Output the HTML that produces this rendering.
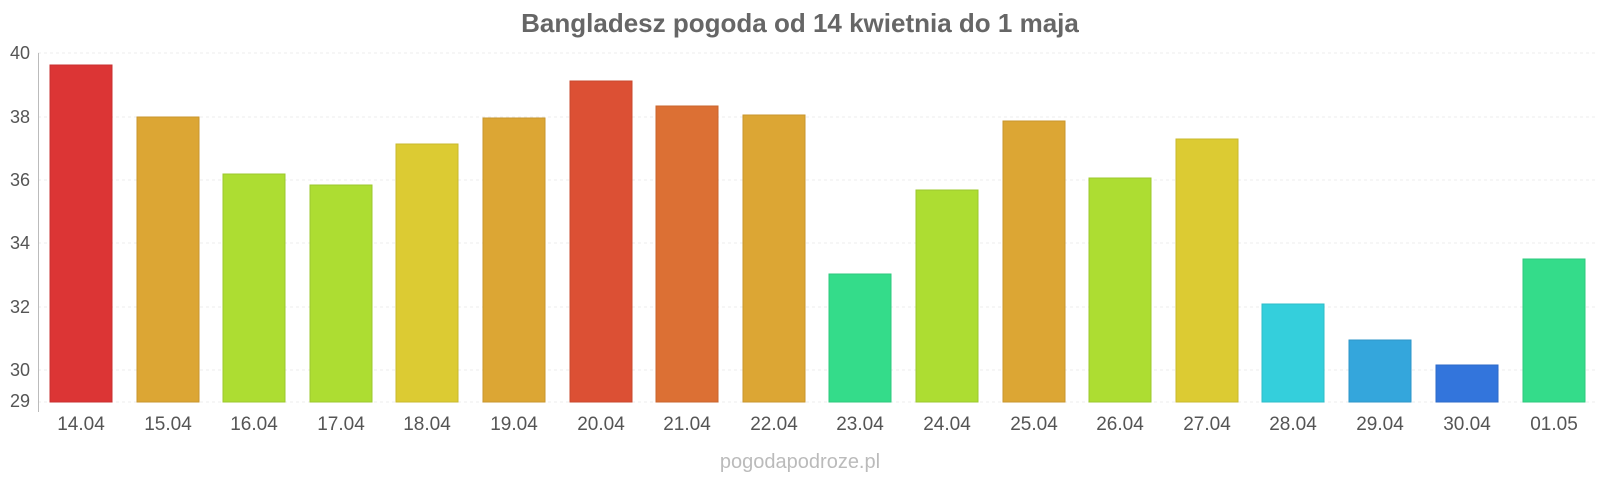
<!DOCTYPE html><html><head><meta charset="utf-8"><style>body{margin:0;background:#fff}svg{display:block}</style></head><body>
<svg width="1600" height="480" xmlns="http://www.w3.org/2000/svg" font-family="Liberation Sans, sans-serif">
<text x="800" y="32" text-anchor="middle" font-size="26" font-weight="bold" fill="#666">Bangladesz pogoda od 14 kwietnia do 1 maja</text>
<g stroke="#eee" stroke-width="1" stroke-dasharray="3,3">
<line x1="38" x2="1597" y1="53" y2="53"/><line x1="38" x2="1597" y1="117" y2="117"/><line x1="38" x2="1597" y1="180" y2="180"/><line x1="38" x2="1597" y1="243" y2="243"/><line x1="38" x2="1597" y1="307" y2="307"/><line x1="38" x2="1597" y1="370" y2="370"/><line x1="38" x2="1597" y1="402" y2="402"/></g>
<line x1="38.5" x2="38.5" y1="53" y2="412" stroke="#bbb"/>
<g font-size="18" fill="#555" text-anchor="end">
<text x="30" y="59">40</text><text x="30" y="123">38</text><text x="30" y="186">36</text><text x="30" y="249">34</text><text x="30" y="313">32</text><text x="30" y="376">30</text><text x="30" y="407">29</text></g>
<g stroke-width="1">
<rect x="50" y="65" width="62" height="337" fill="#dc3535" stroke="#c83030"/>
<rect x="137" y="117" width="62" height="285" fill="#dca634" stroke="#c8962e"/>
<rect x="223" y="174" width="62" height="228" fill="#addd32" stroke="#9cc82d"/>
<rect x="310" y="185" width="62" height="217" fill="#addd32" stroke="#9cc82d"/>
<rect x="396" y="144" width="62" height="258" fill="#dccb33" stroke="#c8b82e"/>
<rect x="483" y="118" width="62" height="284" fill="#dca634" stroke="#c8962e"/>
<rect x="570" y="81" width="62" height="321" fill="#dc5034" stroke="#c8482e"/>
<rect x="656" y="106" width="62" height="296" fill="#dc7034" stroke="#c8652e"/>
<rect x="743" y="115" width="62" height="287" fill="#dca634" stroke="#c8962e"/>
<rect x="829" y="274" width="62" height="128" fill="#34dc8a" stroke="#2ec87d"/>
<rect x="916" y="190" width="62" height="212" fill="#addd32" stroke="#9cc82d"/>
<rect x="1003" y="121" width="62" height="281" fill="#dca634" stroke="#c8962e"/>
<rect x="1089" y="178" width="62" height="224" fill="#addd32" stroke="#9cc82d"/>
<rect x="1176" y="139" width="62" height="263" fill="#dccb33" stroke="#c8b82e"/>
<rect x="1262" y="304" width="62" height="98" fill="#34cfdc" stroke="#2ebcc8"/>
<rect x="1349" y="340" width="62" height="62" fill="#34a6dc" stroke="#2e96c8"/>
<rect x="1436" y="365" width="62" height="37" fill="#3375dc" stroke="#2e6ac8"/>
<rect x="1523" y="259" width="62" height="143" fill="#34dc8a" stroke="#2ec87d"/>
</g>
<g font-size="19" fill="#555" text-anchor="middle">
<text x="81" y="430">14.04</text><text x="168" y="430">15.04</text><text x="254" y="430">16.04</text><text x="341" y="430">17.04</text><text x="427" y="430">18.04</text><text x="514" y="430">19.04</text><text x="601" y="430">20.04</text><text x="687" y="430">21.04</text><text x="774" y="430">22.04</text><text x="860" y="430">23.04</text><text x="947" y="430">24.04</text><text x="1034" y="430">25.04</text><text x="1120" y="430">26.04</text><text x="1207" y="430">27.04</text><text x="1293" y="430">28.04</text><text x="1380" y="430">29.04</text><text x="1467" y="430">30.04</text><text x="1554" y="430">01.05</text></g>
<text x="800" y="468" text-anchor="middle" font-size="20" fill="#bbb">pogodapodroze.pl</text>
</svg></body></html>
